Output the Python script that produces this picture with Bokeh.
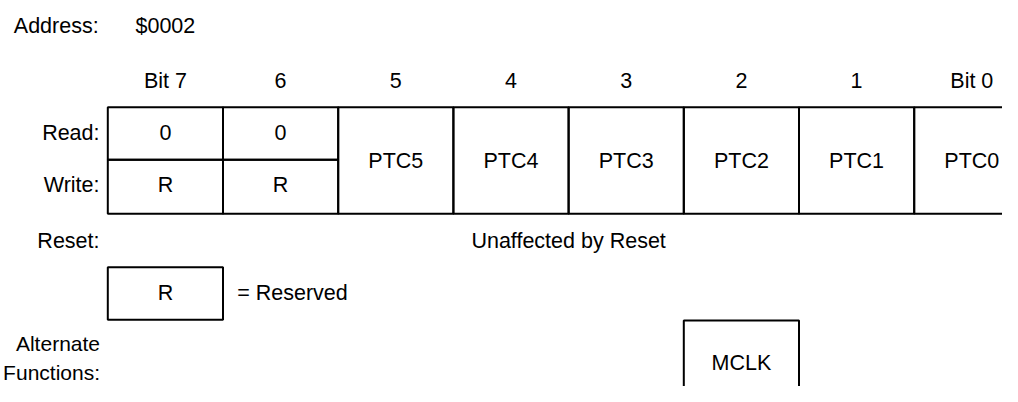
from bokeh.plotting import figure
from bokeh.models import Range1d
from bokeh.core.properties import value
from bokeh.embed import file_html
from bokeh.resources import INLINE

# ---- data ----
address_label = "Address:"
address_value = "$0002"
bit_labels = ["Bit 7", "6", "5", "4", "3", "2", "1", "Bit 0"]
read_vals = ["0", "0", "PTC5", "PTC4", "PTC3", "PTC2", "PTC1", "PTC0"]
write_vals = ["R", "R", "PTC5", "PTC4", "PTC3", "PTC2", "PTC1", "PTC0"]
reset_text = "Unaffected by Reset"
legend_key = "R"
legend_text = "= Reserved"
alt_funcs = ["", "", "", "", "", "MCLK", "", ""]
row_labels = ["Read:", "Write:", "Reset:"]
alt_label = ["Alternate", "Functions:"]

# ---- layout (pixel-like coordinates, y downward) ----
X0, W = 107.3, 115.2
TOP, MID, BOT = 106.7, 159.3, 213.3
FONT = value("Liberation Sans")
FS = "21.5px"

p = figure(width=1002, height=386, x_range=Range1d(0, 1002), y_range=Range1d(386, 0),
           output_backend="svg", toolbar_location=None, x_axis_type=None, y_axis_type=None,
           min_border=0, min_border_left=0, min_border_right=0, min_border_top=0, min_border_bottom=0)
p.outline_line_color = None
p.grid.visible = False
p.background_fill_color = "white"
p.border_fill_color = "white"

def txt(x, y, t, align="center", fs=FS):
    p.text(x=x, y=y, text=t, text_font=FONT, text_font_size=fs, text_color="black",
           text_align=align, text_baseline="alphabetic")

# cells
l, r, t, b = [], [], [], []
read_x, read_t, write_x, write_t, merged_x, merged_t = [], [], [], [], [], []
for i, (rv, wv) in enumerate(zip(read_vals, write_vals)):
    left = X0 + i * W
    cx = left + W / 2
    if rv == wv:
        l.append(left); r.append(left + W); t.append(TOP); b.append(BOT)
        merged_x.append(cx); merged_t.append(rv)
    else:
        l += [left, left]; r += [left + W, left + W]; t += [TOP, MID]; b += [MID, BOT]
        read_x.append(cx); read_t.append(rv)
        write_x.append(cx); write_t.append(wv)

# alternate function boxes and legend box
for i, f in enumerate(alt_funcs):
    if f:
        left = X0 + i * W
        l.append(left); r.append(left + W); t.append(320); b.append(420)
l.append(X0); r.append(X0 + W); t.append(266.7); b.append(319.2)

p.quad(left=l, right=r, top=t, bottom=b, fill_color=None, line_color="black", line_width=2)

# texts (y = visual centre of the capitals)
txt([13.3], [25.3], [address_label], "left")
txt([135], [25.3], [address_value], "left")
txt([X0 + i * W + W / 2 for i in range(len(bit_labels))], [80.3] * len(bit_labels), bit_labels)
txt(read_x, [132.3] * len(read_x), read_t)
txt(write_x, [184.5] * len(write_x), write_t)
txt(merged_x, [160.3] * len(merged_x), merged_t)
txt([99] * len(row_labels), [132.3, 184.5, 240.3], row_labels, "right")
txt([99.5, 99.5], [343, 372], alt_label, "right", "21px")
txt([X0 + len(bit_labels) * W / 2], [240.3], [reset_text])
txt([X0 + W / 2], [292.7], [legend_key])
txt([236.7], [292.7], [legend_text], "left")
ax = [X0 + i * W + W / 2 for i, f in enumerate(alt_funcs) if f]
txt(ax, [362] * len(ax), [f for f in alt_funcs if f])

open("out.html", "w").write(file_html(p, INLINE))
